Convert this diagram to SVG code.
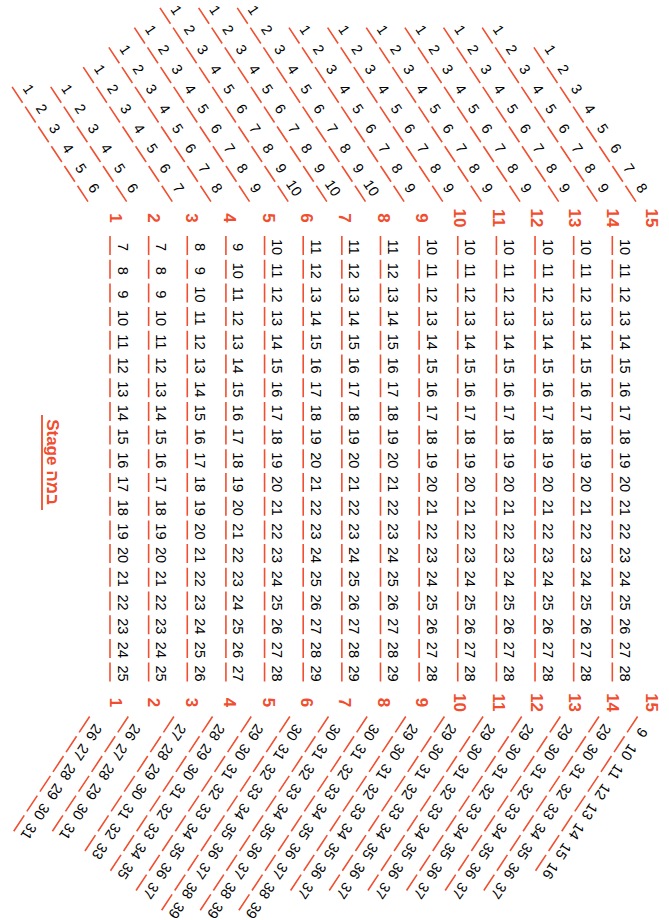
<svg xmlns="http://www.w3.org/2000/svg" width="669" height="920" viewBox="0 0 669 920">
<style>
.s{font-family:"Liberation Sans",Arial,sans-serif;font-size:14.5px;fill:#000;text-anchor:middle;dominant-baseline:central}
.r{font-family:"Liberation Sans",Arial,sans-serif;font-size:17px;font-weight:bold;fill:#f04e2e;text-anchor:middle;dominant-baseline:central}
.d{stroke:#f04f30;stroke-width:1.6;stroke-dasharray:19 4.7;fill:none}
.st{font-family:"Liberation Sans","DejaVu Sans",Arial,sans-serif;font-size:17px;font-weight:bold;fill:#f04e2e;text-anchor:middle}
</style>
<rect width="669" height="920" fill="#fff"/>

<g id="stage">
<text class="st" x="462" y="0" transform="translate(47,0) rotate(90)">Stage במה</text>
<line x1="42" y1="415" x2="42" y2="510" stroke="#f04e2e" stroke-width="1.8"/>
</g>

<g id="labels-top">
<text class="r" x="115" y="218" transform="rotate(90 115 218)">1</text>
<text class="r" x="153.3" y="218" transform="rotate(90 153.3 218)">2</text>
<text class="r" x="191.6" y="218" transform="rotate(90 191.6 218)">3</text>
<text class="r" x="229.9" y="218" transform="rotate(90 229.9 218)">4</text>
<text class="r" x="268.2" y="218" transform="rotate(90 268.2 218)">5</text>
<text class="r" x="306.5" y="218" transform="rotate(90 306.5 218)">6</text>
<text class="r" x="344.8" y="218" transform="rotate(90 344.8 218)">7</text>
<text class="r" x="383.1" y="218" transform="rotate(90 383.1 218)">8</text>
<text class="r" x="421.4" y="218" transform="rotate(90 421.4 218)">9</text>
<text class="r" x="459.7" y="218" transform="rotate(90 459.7 218)">10</text>
<text class="r" x="498" y="218" transform="rotate(90 498 218)">11</text>
<text class="r" x="536.3" y="218" transform="rotate(90 536.3 218)">12</text>
<text class="r" x="574.6" y="218" transform="rotate(90 574.6 218)">13</text>
<text class="r" x="612.9" y="218" transform="rotate(90 612.9 218)">14</text>
<text class="r" x="651.2" y="218" transform="rotate(90 651.2 218)">15</text>
</g>
<g id="labels-bottom">
<text class="r" x="115" y="702.6" transform="rotate(90 115 702.6)">1</text>
<text class="r" x="153.3" y="702.6" transform="rotate(90 153.3 702.6)">2</text>
<text class="r" x="191.6" y="702.6" transform="rotate(90 191.6 702.6)">3</text>
<text class="r" x="229.9" y="702.6" transform="rotate(90 229.9 702.6)">4</text>
<text class="r" x="268.2" y="702.6" transform="rotate(90 268.2 702.6)">5</text>
<text class="r" x="306.5" y="702.6" transform="rotate(90 306.5 702.6)">6</text>
<text class="r" x="344.8" y="702.6" transform="rotate(90 344.8 702.6)">7</text>
<text class="r" x="383.1" y="702.6" transform="rotate(90 383.1 702.6)">8</text>
<text class="r" x="421.4" y="702.6" transform="rotate(90 421.4 702.6)">9</text>
<text class="r" x="459.7" y="702.6" transform="rotate(90 459.7 702.6)">10</text>
<text class="r" x="498" y="702.6" transform="rotate(90 498 702.6)">11</text>
<text class="r" x="536.3" y="702.6" transform="rotate(90 536.3 702.6)">12</text>
<text class="r" x="574.6" y="702.6" transform="rotate(90 574.6 702.6)">13</text>
<text class="r" x="612.9" y="702.6" transform="rotate(90 612.9 702.6)">14</text>
<text class="r" x="651.2" y="702.6" transform="rotate(90 651.2 702.6)">15</text>
</g>

<!-- middle block -->
<g id="mid-1" transform="translate(122.5,247) rotate(90)">
<line class="d" x1="-11" y1="12.5" x2="434.6" y2="12.5"/>
<text class="s" x="0">7</text><text class="s" x="23.7">8</text><text class="s" x="47.4">9</text><text class="s" x="71.1">10</text><text class="s" x="94.8">11</text><text class="s" x="118.5">12</text><text class="s" x="142.2">13</text><text class="s" x="165.9">14</text><text class="s" x="189.6">15</text><text class="s" x="213.3">16</text><text class="s" x="237">17</text><text class="s" x="260.7">18</text><text class="s" x="284.4">19</text><text class="s" x="308.1">20</text><text class="s" x="331.8">21</text><text class="s" x="355.5">22</text><text class="s" x="379.2">23</text><text class="s" x="402.9">24</text><text class="s" x="426.6">25</text>
</g>
<g id="mid-2" transform="translate(161.14,247) rotate(90)">
<line class="d" x1="-11" y1="12.5" x2="434.6" y2="12.5"/>
<text class="s" x="0">7</text><text class="s" x="23.7">8</text><text class="s" x="47.4">9</text><text class="s" x="71.1">10</text><text class="s" x="94.8">11</text><text class="s" x="118.5">12</text><text class="s" x="142.2">13</text><text class="s" x="165.9">14</text><text class="s" x="189.6">15</text><text class="s" x="213.3">16</text><text class="s" x="237">17</text><text class="s" x="260.7">18</text><text class="s" x="284.4">19</text><text class="s" x="308.1">20</text><text class="s" x="331.8">21</text><text class="s" x="355.5">22</text><text class="s" x="379.2">23</text><text class="s" x="402.9">24</text><text class="s" x="426.6">25</text>
</g>
<g id="mid-3" transform="translate(199.78,247) rotate(90)">
<line class="d" x1="-11" y1="12.5" x2="434.6" y2="12.5"/>
<text class="s" x="0">8</text><text class="s" x="23.7">9</text><text class="s" x="47.4">10</text><text class="s" x="71.1">11</text><text class="s" x="94.8">12</text><text class="s" x="118.5">13</text><text class="s" x="142.2">14</text><text class="s" x="165.9">15</text><text class="s" x="189.6">16</text><text class="s" x="213.3">17</text><text class="s" x="237">18</text><text class="s" x="260.7">19</text><text class="s" x="284.4">20</text><text class="s" x="308.1">21</text><text class="s" x="331.8">22</text><text class="s" x="355.5">23</text><text class="s" x="379.2">24</text><text class="s" x="402.9">25</text><text class="s" x="426.6">26</text>
</g>
<g id="mid-4" transform="translate(238.42,247) rotate(90)">
<line class="d" x1="-11" y1="12.5" x2="434.6" y2="12.5"/>
<text class="s" x="0">9</text><text class="s" x="23.7">10</text><text class="s" x="47.4">11</text><text class="s" x="71.1">12</text><text class="s" x="94.8">13</text><text class="s" x="118.5">14</text><text class="s" x="142.2">15</text><text class="s" x="165.9">16</text><text class="s" x="189.6">17</text><text class="s" x="213.3">18</text><text class="s" x="237">19</text><text class="s" x="260.7">20</text><text class="s" x="284.4">21</text><text class="s" x="308.1">22</text><text class="s" x="331.8">23</text><text class="s" x="355.5">24</text><text class="s" x="379.2">25</text><text class="s" x="402.9">26</text><text class="s" x="426.6">27</text>
</g>
<g id="mid-5" transform="translate(277.06,247) rotate(90)">
<line class="d" x1="-11" y1="12.5" x2="434.6" y2="12.5"/>
<text class="s" x="0">10</text><text class="s" x="23.7">11</text><text class="s" x="47.4">12</text><text class="s" x="71.1">13</text><text class="s" x="94.8">14</text><text class="s" x="118.5">15</text><text class="s" x="142.2">16</text><text class="s" x="165.9">17</text><text class="s" x="189.6">18</text><text class="s" x="213.3">19</text><text class="s" x="237">20</text><text class="s" x="260.7">21</text><text class="s" x="284.4">22</text><text class="s" x="308.1">23</text><text class="s" x="331.8">24</text><text class="s" x="355.5">25</text><text class="s" x="379.2">26</text><text class="s" x="402.9">27</text><text class="s" x="426.6">28</text>
</g>
<g id="mid-6" transform="translate(315.7,247) rotate(90)">
<line class="d" x1="-11" y1="12.5" x2="434.6" y2="12.5"/>
<text class="s" x="0">11</text><text class="s" x="23.7">12</text><text class="s" x="47.4">13</text><text class="s" x="71.1">14</text><text class="s" x="94.8">15</text><text class="s" x="118.5">16</text><text class="s" x="142.2">17</text><text class="s" x="165.9">18</text><text class="s" x="189.6">19</text><text class="s" x="213.3">20</text><text class="s" x="237">21</text><text class="s" x="260.7">22</text><text class="s" x="284.4">23</text><text class="s" x="308.1">24</text><text class="s" x="331.8">25</text><text class="s" x="355.5">26</text><text class="s" x="379.2">27</text><text class="s" x="402.9">28</text><text class="s" x="426.6">29</text>
</g>
<g id="mid-7" transform="translate(354.34,247) rotate(90)">
<line class="d" x1="-11" y1="12.5" x2="434.6" y2="12.5"/>
<text class="s" x="0">11</text><text class="s" x="23.7">12</text><text class="s" x="47.4">13</text><text class="s" x="71.1">14</text><text class="s" x="94.8">15</text><text class="s" x="118.5">16</text><text class="s" x="142.2">17</text><text class="s" x="165.9">18</text><text class="s" x="189.6">19</text><text class="s" x="213.3">20</text><text class="s" x="237">21</text><text class="s" x="260.7">22</text><text class="s" x="284.4">23</text><text class="s" x="308.1">24</text><text class="s" x="331.8">25</text><text class="s" x="355.5">26</text><text class="s" x="379.2">27</text><text class="s" x="402.9">28</text><text class="s" x="426.6">29</text>
</g>
<g id="mid-8" transform="translate(392.98,247) rotate(90)">
<line class="d" x1="-11" y1="12.5" x2="434.6" y2="12.5"/>
<text class="s" x="0">11</text><text class="s" x="23.7">12</text><text class="s" x="47.4">13</text><text class="s" x="71.1">14</text><text class="s" x="94.8">15</text><text class="s" x="118.5">16</text><text class="s" x="142.2">17</text><text class="s" x="165.9">18</text><text class="s" x="189.6">19</text><text class="s" x="213.3">20</text><text class="s" x="237">21</text><text class="s" x="260.7">22</text><text class="s" x="284.4">23</text><text class="s" x="308.1">24</text><text class="s" x="331.8">25</text><text class="s" x="355.5">26</text><text class="s" x="379.2">27</text><text class="s" x="402.9">28</text><text class="s" x="426.6">29</text>
</g>
<g id="mid-9" transform="translate(431.62,247) rotate(90)">
<line class="d" x1="-11" y1="12.5" x2="434.6" y2="12.5"/>
<text class="s" x="0">10</text><text class="s" x="23.7">11</text><text class="s" x="47.4">12</text><text class="s" x="71.1">13</text><text class="s" x="94.8">14</text><text class="s" x="118.5">15</text><text class="s" x="142.2">16</text><text class="s" x="165.9">17</text><text class="s" x="189.6">18</text><text class="s" x="213.3">19</text><text class="s" x="237">20</text><text class="s" x="260.7">21</text><text class="s" x="284.4">22</text><text class="s" x="308.1">23</text><text class="s" x="331.8">24</text><text class="s" x="355.5">25</text><text class="s" x="379.2">26</text><text class="s" x="402.9">27</text><text class="s" x="426.6">28</text>
</g>
<g id="mid-10" transform="translate(470.26,247) rotate(90)">
<line class="d" x1="-11" y1="12.5" x2="434.6" y2="12.5"/>
<text class="s" x="0">10</text><text class="s" x="23.7">11</text><text class="s" x="47.4">12</text><text class="s" x="71.1">13</text><text class="s" x="94.8">14</text><text class="s" x="118.5">15</text><text class="s" x="142.2">16</text><text class="s" x="165.9">17</text><text class="s" x="189.6">18</text><text class="s" x="213.3">19</text><text class="s" x="237">20</text><text class="s" x="260.7">21</text><text class="s" x="284.4">22</text><text class="s" x="308.1">23</text><text class="s" x="331.8">24</text><text class="s" x="355.5">25</text><text class="s" x="379.2">26</text><text class="s" x="402.9">27</text><text class="s" x="426.6">28</text>
</g>
<g id="mid-11" transform="translate(508.9,247) rotate(90)">
<line class="d" x1="-11" y1="12.5" x2="434.6" y2="12.5"/>
<text class="s" x="0">10</text><text class="s" x="23.7">11</text><text class="s" x="47.4">12</text><text class="s" x="71.1">13</text><text class="s" x="94.8">14</text><text class="s" x="118.5">15</text><text class="s" x="142.2">16</text><text class="s" x="165.9">17</text><text class="s" x="189.6">18</text><text class="s" x="213.3">19</text><text class="s" x="237">20</text><text class="s" x="260.7">21</text><text class="s" x="284.4">22</text><text class="s" x="308.1">23</text><text class="s" x="331.8">24</text><text class="s" x="355.5">25</text><text class="s" x="379.2">26</text><text class="s" x="402.9">27</text><text class="s" x="426.6">28</text>
</g>
<g id="mid-12" transform="translate(547.54,247) rotate(90)">
<line class="d" x1="-11" y1="12.5" x2="434.6" y2="12.5"/>
<text class="s" x="0">10</text><text class="s" x="23.7">11</text><text class="s" x="47.4">12</text><text class="s" x="71.1">13</text><text class="s" x="94.8">14</text><text class="s" x="118.5">15</text><text class="s" x="142.2">16</text><text class="s" x="165.9">17</text><text class="s" x="189.6">18</text><text class="s" x="213.3">19</text><text class="s" x="237">20</text><text class="s" x="260.7">21</text><text class="s" x="284.4">22</text><text class="s" x="308.1">23</text><text class="s" x="331.8">24</text><text class="s" x="355.5">25</text><text class="s" x="379.2">26</text><text class="s" x="402.9">27</text><text class="s" x="426.6">28</text>
</g>
<g id="mid-13" transform="translate(586.18,247) rotate(90)">
<line class="d" x1="-11" y1="12.5" x2="434.6" y2="12.5"/>
<text class="s" x="0">10</text><text class="s" x="23.7">11</text><text class="s" x="47.4">12</text><text class="s" x="71.1">13</text><text class="s" x="94.8">14</text><text class="s" x="118.5">15</text><text class="s" x="142.2">16</text><text class="s" x="165.9">17</text><text class="s" x="189.6">18</text><text class="s" x="213.3">19</text><text class="s" x="237">20</text><text class="s" x="260.7">21</text><text class="s" x="284.4">22</text><text class="s" x="308.1">23</text><text class="s" x="331.8">24</text><text class="s" x="355.5">25</text><text class="s" x="379.2">26</text><text class="s" x="402.9">27</text><text class="s" x="426.6">28</text>
</g>
<g id="mid-14" transform="translate(624.82,247) rotate(90)">
<line class="d" x1="-11" y1="12.5" x2="434.6" y2="12.5"/>
<text class="s" x="0">10</text><text class="s" x="23.7">11</text><text class="s" x="47.4">12</text><text class="s" x="71.1">13</text><text class="s" x="94.8">14</text><text class="s" x="118.5">15</text><text class="s" x="142.2">16</text><text class="s" x="165.9">17</text><text class="s" x="189.6">18</text><text class="s" x="213.3">19</text><text class="s" x="237">20</text><text class="s" x="260.7">21</text><text class="s" x="284.4">22</text><text class="s" x="308.1">23</text><text class="s" x="331.8">24</text><text class="s" x="355.5">25</text><text class="s" x="379.2">26</text><text class="s" x="402.9">27</text><text class="s" x="426.6">28</text>
</g>

<!-- top wing -->
<g id="top-1" transform="translate(94,188) rotate(56.5)">
<line class="d" x1="-129.5" y1="12.5" x2="8" y2="12.5"/>
<text class="s" x="-118.5">1</text><text class="s" x="-94.8">2</text><text class="s" x="-71.1">3</text><text class="s" x="-47.4">4</text><text class="s" x="-23.7">5</text><text class="s" x="0">6</text>
</g>
<g id="top-2" transform="translate(132.64,188) rotate(56.5)">
<line class="d" x1="-129.5" y1="12.5" x2="8" y2="12.5"/>
<text class="s" x="-118.5">1</text><text class="s" x="-94.8">2</text><text class="s" x="-71.1">3</text><text class="s" x="-47.4">4</text><text class="s" x="-23.7">5</text><text class="s" x="0">6</text>
</g>
<g id="top-3" transform="translate(178.28,188) rotate(56.5)">
<line class="d" x1="-153.2" y1="12.5" x2="8" y2="12.5"/>
<text class="s" x="-142.2">1</text><text class="s" x="-118.5">2</text><text class="s" x="-94.8">3</text><text class="s" x="-71.1">4</text><text class="s" x="-47.4">5</text><text class="s" x="-23.7">6</text><text class="s" x="0">7</text>
</g>
<g id="top-4" transform="translate(216.92,188) rotate(56.5)">
<line class="d" x1="-176.9" y1="12.5" x2="8" y2="12.5"/>
<text class="s" x="-165.9">1</text><text class="s" x="-142.2">2</text><text class="s" x="-118.5">3</text><text class="s" x="-94.8">4</text><text class="s" x="-71.1">5</text><text class="s" x="-47.4">6</text><text class="s" x="-23.7">7</text><text class="s" x="0">8</text>
</g>
<g id="top-5" transform="translate(255.56,188) rotate(56.5)">
<line class="d" x1="-200.6" y1="12.5" x2="8" y2="12.5"/>
<text class="s" x="-189.6">1</text><text class="s" x="-165.9">2</text><text class="s" x="-142.2">3</text><text class="s" x="-118.5">4</text><text class="s" x="-94.8">5</text><text class="s" x="-71.1">6</text><text class="s" x="-47.4">7</text><text class="s" x="-23.7">8</text><text class="s" x="0">9</text>
</g>
<g id="top-6" transform="translate(294.2,188) rotate(56.5)">
<line class="d" x1="-224.3" y1="12.5" x2="8" y2="12.5"/>
<text class="s" x="-213.3">1</text><text class="s" x="-189.6">2</text><text class="s" x="-165.9">3</text><text class="s" x="-142.2">4</text><text class="s" x="-118.5">5</text><text class="s" x="-94.8">6</text><text class="s" x="-71.1">7</text><text class="s" x="-47.4">8</text><text class="s" x="-23.7">9</text><text class="s" x="0">10</text>
</g>
<g id="top-7" transform="translate(332.84,188) rotate(56.5)">
<line class="d" x1="-224.3" y1="12.5" x2="8" y2="12.5"/>
<text class="s" x="-213.3">1</text><text class="s" x="-189.6">2</text><text class="s" x="-165.9">3</text><text class="s" x="-142.2">4</text><text class="s" x="-118.5">5</text><text class="s" x="-94.8">6</text><text class="s" x="-71.1">7</text><text class="s" x="-47.4">8</text><text class="s" x="-23.7">9</text><text class="s" x="0">10</text>
</g>
<g id="top-8" transform="translate(371.48,188) rotate(56.5)">
<line class="d" x1="-224.3" y1="12.5" x2="8" y2="12.5"/>
<text class="s" x="-213.3">1</text><text class="s" x="-189.6">2</text><text class="s" x="-165.9">3</text><text class="s" x="-142.2">4</text><text class="s" x="-118.5">5</text><text class="s" x="-94.8">6</text><text class="s" x="-71.1">7</text><text class="s" x="-47.4">8</text><text class="s" x="-23.7">9</text><text class="s" x="0">10</text>
</g>
<g id="top-9" transform="translate(410.12,188) rotate(56.5)">
<line class="d" x1="-200.6" y1="12.5" x2="8" y2="12.5"/>
<text class="s" x="-189.6">1</text><text class="s" x="-165.9">2</text><text class="s" x="-142.2">3</text><text class="s" x="-118.5">4</text><text class="s" x="-94.8">5</text><text class="s" x="-71.1">6</text><text class="s" x="-47.4">7</text><text class="s" x="-23.7">8</text><text class="s" x="0">9</text>
</g>
<g id="top-10" transform="translate(448.76,188) rotate(56.5)">
<line class="d" x1="-200.6" y1="12.5" x2="8" y2="12.5"/>
<text class="s" x="-189.6">1</text><text class="s" x="-165.9">2</text><text class="s" x="-142.2">3</text><text class="s" x="-118.5">4</text><text class="s" x="-94.8">5</text><text class="s" x="-71.1">6</text><text class="s" x="-47.4">7</text><text class="s" x="-23.7">8</text><text class="s" x="0">9</text>
</g>
<g id="top-11" transform="translate(487.4,188) rotate(56.5)">
<line class="d" x1="-200.6" y1="12.5" x2="8" y2="12.5"/>
<text class="s" x="-189.6">1</text><text class="s" x="-165.9">2</text><text class="s" x="-142.2">3</text><text class="s" x="-118.5">4</text><text class="s" x="-94.8">5</text><text class="s" x="-71.1">6</text><text class="s" x="-47.4">7</text><text class="s" x="-23.7">8</text><text class="s" x="0">9</text>
</g>
<g id="top-12" transform="translate(526.04,188) rotate(56.5)">
<line class="d" x1="-200.6" y1="12.5" x2="8" y2="12.5"/>
<text class="s" x="-189.6">1</text><text class="s" x="-165.9">2</text><text class="s" x="-142.2">3</text><text class="s" x="-118.5">4</text><text class="s" x="-94.8">5</text><text class="s" x="-71.1">6</text><text class="s" x="-47.4">7</text><text class="s" x="-23.7">8</text><text class="s" x="0">9</text>
</g>
<g id="top-13" transform="translate(564.68,188) rotate(56.5)">
<line class="d" x1="-200.6" y1="12.5" x2="8" y2="12.5"/>
<text class="s" x="-189.6">1</text><text class="s" x="-165.9">2</text><text class="s" x="-142.2">3</text><text class="s" x="-118.5">4</text><text class="s" x="-94.8">5</text><text class="s" x="-71.1">6</text><text class="s" x="-47.4">7</text><text class="s" x="-23.7">8</text><text class="s" x="0">9</text>
</g>
<g id="top-14" transform="translate(603.32,188) rotate(56.5)">
<line class="d" x1="-200.6" y1="12.5" x2="8" y2="12.5"/>
<text class="s" x="-189.6">1</text><text class="s" x="-165.9">2</text><text class="s" x="-142.2">3</text><text class="s" x="-118.5">4</text><text class="s" x="-94.8">5</text><text class="s" x="-71.1">6</text><text class="s" x="-47.4">7</text><text class="s" x="-23.7">8</text><text class="s" x="0">9</text>
</g>
<g id="top-15" transform="translate(641.96,188) rotate(56.5)">
<line class="d" x1="-176.9" y1="12.5" x2="8" y2="12.5"/>
<text class="s" x="-165.9">1</text><text class="s" x="-142.2">2</text><text class="s" x="-118.5">3</text><text class="s" x="-94.8">4</text><text class="s" x="-71.1">5</text><text class="s" x="-47.4">6</text><text class="s" x="-23.7">7</text><text class="s" x="0">8</text>
</g>

<!-- bottom wing -->
<g id="bot-1" transform="translate(94,732.6) rotate(123.5)">
<line class="d" x1="-11" y1="12.5" x2="126.5" y2="12.5"/>
<text class="s" x="0">26</text><text class="s" x="23.7">27</text><text class="s" x="47.4">28</text><text class="s" x="71.1">29</text><text class="s" x="94.8">30</text><text class="s" x="118.5">31</text>
</g>
<g id="bot-2" transform="translate(132.64,732.6) rotate(123.5)">
<line class="d" x1="-11" y1="12.5" x2="126.5" y2="12.5"/>
<text class="s" x="0">26</text><text class="s" x="23.7">27</text><text class="s" x="47.4">28</text><text class="s" x="71.1">29</text><text class="s" x="94.8">30</text><text class="s" x="118.5">31</text>
</g>
<g id="bot-3" transform="translate(178.28,732.6) rotate(123.5)">
<line class="d" x1="-11" y1="12.5" x2="150.2" y2="12.5"/>
<text class="s" x="0">27</text><text class="s" x="23.7">28</text><text class="s" x="47.4">29</text><text class="s" x="71.1">30</text><text class="s" x="94.8">31</text><text class="s" x="118.5">32</text><text class="s" x="142.2">33</text>
</g>
<g id="bot-4" transform="translate(216.92,732.6) rotate(123.5)">
<line class="d" x1="-11" y1="12.5" x2="173.9" y2="12.5"/>
<text class="s" x="0">28</text><text class="s" x="23.7">29</text><text class="s" x="47.4">30</text><text class="s" x="71.1">31</text><text class="s" x="94.8">32</text><text class="s" x="118.5">33</text><text class="s" x="142.2">34</text><text class="s" x="165.9">35</text>
</g>
<g id="bot-5" transform="translate(255.56,732.6) rotate(123.5)">
<line class="d" x1="-11" y1="12.5" x2="197.6" y2="12.5"/>
<text class="s" x="0">29</text><text class="s" x="23.7">30</text><text class="s" x="47.4">31</text><text class="s" x="71.1">32</text><text class="s" x="94.8">33</text><text class="s" x="118.5">34</text><text class="s" x="142.2">35</text><text class="s" x="165.9">36</text><text class="s" x="189.6">37</text>
</g>
<g id="bot-6" transform="translate(294.2,732.6) rotate(123.5)">
<line class="d" x1="-11" y1="12.5" x2="221.3" y2="12.5"/>
<text class="s" x="0">30</text><text class="s" x="23.7">31</text><text class="s" x="47.4">32</text><text class="s" x="71.1">33</text><text class="s" x="94.8">34</text><text class="s" x="118.5">35</text><text class="s" x="142.2">36</text><text class="s" x="165.9">37</text><text class="s" x="189.6">38</text><text class="s" x="213.3">39</text>
</g>
<g id="bot-7" transform="translate(332.84,732.6) rotate(123.5)">
<line class="d" x1="-11" y1="12.5" x2="221.3" y2="12.5"/>
<text class="s" x="0">30</text><text class="s" x="23.7">31</text><text class="s" x="47.4">32</text><text class="s" x="71.1">33</text><text class="s" x="94.8">34</text><text class="s" x="118.5">35</text><text class="s" x="142.2">36</text><text class="s" x="165.9">37</text><text class="s" x="189.6">38</text><text class="s" x="213.3">39</text>
</g>
<g id="bot-8" transform="translate(371.48,732.6) rotate(123.5)">
<line class="d" x1="-11" y1="12.5" x2="221.3" y2="12.5"/>
<text class="s" x="0">30</text><text class="s" x="23.7">31</text><text class="s" x="47.4">32</text><text class="s" x="71.1">33</text><text class="s" x="94.8">34</text><text class="s" x="118.5">35</text><text class="s" x="142.2">36</text><text class="s" x="165.9">37</text><text class="s" x="189.6">38</text><text class="s" x="213.3">39</text>
</g>
<g id="bot-9" transform="translate(410.12,732.6) rotate(123.5)">
<line class="d" x1="-11" y1="12.5" x2="197.6" y2="12.5"/>
<text class="s" x="0">29</text><text class="s" x="23.7">30</text><text class="s" x="47.4">31</text><text class="s" x="71.1">32</text><text class="s" x="94.8">33</text><text class="s" x="118.5">34</text><text class="s" x="142.2">35</text><text class="s" x="165.9">36</text><text class="s" x="189.6">37</text>
</g>
<g id="bot-10" transform="translate(448.76,732.6) rotate(123.5)">
<line class="d" x1="-11" y1="12.5" x2="197.6" y2="12.5"/>
<text class="s" x="0">29</text><text class="s" x="23.7">30</text><text class="s" x="47.4">31</text><text class="s" x="71.1">32</text><text class="s" x="94.8">33</text><text class="s" x="118.5">34</text><text class="s" x="142.2">35</text><text class="s" x="165.9">36</text><text class="s" x="189.6">37</text>
</g>
<g id="bot-11" transform="translate(487.4,732.6) rotate(123.5)">
<line class="d" x1="-11" y1="12.5" x2="197.6" y2="12.5"/>
<text class="s" x="0">29</text><text class="s" x="23.7">30</text><text class="s" x="47.4">31</text><text class="s" x="71.1">32</text><text class="s" x="94.8">33</text><text class="s" x="118.5">34</text><text class="s" x="142.2">35</text><text class="s" x="165.9">36</text><text class="s" x="189.6">37</text>
</g>
<g id="bot-12" transform="translate(526.04,732.6) rotate(123.5)">
<line class="d" x1="-11" y1="12.5" x2="197.6" y2="12.5"/>
<text class="s" x="0">29</text><text class="s" x="23.7">30</text><text class="s" x="47.4">31</text><text class="s" x="71.1">32</text><text class="s" x="94.8">33</text><text class="s" x="118.5">34</text><text class="s" x="142.2">35</text><text class="s" x="165.9">36</text><text class="s" x="189.6">37</text>
</g>
<g id="bot-13" transform="translate(564.68,732.6) rotate(123.5)">
<line class="d" x1="-11" y1="12.5" x2="197.6" y2="12.5"/>
<text class="s" x="0">29</text><text class="s" x="23.7">30</text><text class="s" x="47.4">31</text><text class="s" x="71.1">32</text><text class="s" x="94.8">33</text><text class="s" x="118.5">34</text><text class="s" x="142.2">35</text><text class="s" x="165.9">36</text><text class="s" x="189.6">37</text>
</g>
<g id="bot-14" transform="translate(603.32,732.6) rotate(123.5)">
<line class="d" x1="-11" y1="12.5" x2="197.6" y2="12.5"/>
<text class="s" x="0">29</text><text class="s" x="23.7">30</text><text class="s" x="47.4">31</text><text class="s" x="71.1">32</text><text class="s" x="94.8">33</text><text class="s" x="118.5">34</text><text class="s" x="142.2">35</text><text class="s" x="165.9">36</text><text class="s" x="189.6">37</text>
</g>
<g id="bot-15" transform="translate(641.96,732.6) rotate(123.5)">
<line class="d" x1="-11" y1="12.5" x2="173.9" y2="12.5"/>
<text class="s" x="0">9</text><text class="s" x="23.7">10</text><text class="s" x="47.4">11</text><text class="s" x="71.1">12</text><text class="s" x="94.8">13</text><text class="s" x="118.5">14</text><text class="s" x="142.2">15</text><text class="s" x="165.9">16</text>
</g>
</svg>
